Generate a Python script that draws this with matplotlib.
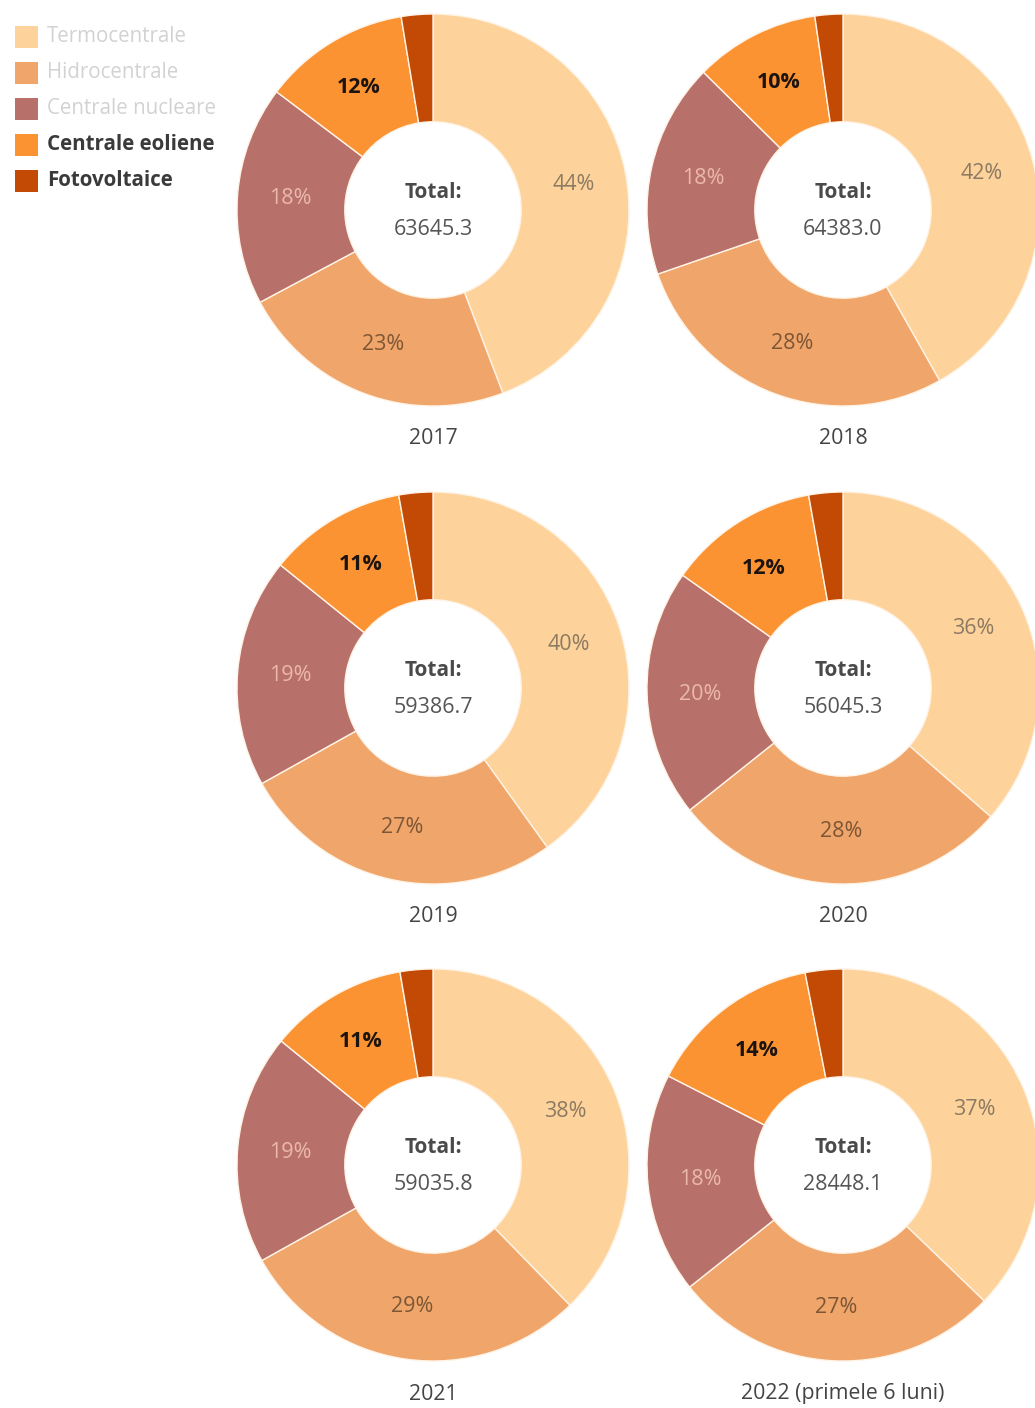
import numpy as np
import matplotlib.pyplot as plt
from matplotlib.patches import Rectangle

plt.rcParams['font.family'] = ['Open Sans', 'DejaVu Sans']

# share of electricity production by source (%), clockwise from 12 o'clock
sources = ["Termocentrale", "Hidrocentrale", "Centrale nucleare",
           "Centrale eoliene", "Fotovoltaice"]
years = ["2017", "2018", "2019", "2020", "2021", "2022 (primele 6 luni)"]
totals = ["63645.3", "64383.0", "59386.7", "56045.3", "59035.8", "28448.1"]

share_2017 = [44.2, 23.0, 18.1, 12.1, 2.6]
share_2018 = [41.8, 27.9, 17.7, 10.3, 2.3]
share_2019 = [40.1, 26.8, 18.9, 11.4, 2.8]
share_2020 = [36.3, 27.8, 20.4, 12.4, 2.8]
share_2021 = [37.7, 29.2, 19.0, 11.4, 2.7]
share_2022 = [37.2, 27.1, 18.2, 14.4, 3.1]
shares = [share_2017, share_2018, share_2019, share_2020, share_2021, share_2022]

colors = ["#fdd39b", "#f0a66b", "#b8706a", "#fb9332", "#c24a05"]
pct_colors = ["#8c7a62", "#7d5635", "#eab8ae", "#1c1410"]
pct_weights = ["normal", "normal", "normal", "bold"]
legend_colors = ["#d2d2d2", "#d2d2d2", "#d2d2d2", "#3a3a3a", "#3a3a3a"]
legend_weights = ["normal", "normal", "normal", "bold", "bold"]

W, H = 1035, 1408
fig = plt.figure(figsize=(W / 100, H / 100), dpi=100)

R = 196
centers = [(433, 210), (843, 210), (433, 688), (843, 688), (433, 1165), (843, 1165)]
pad = 1.25

for i, (cx, cy) in enumerate(centers):
    size = 2 * R * pad
    ax = fig.add_axes([(cx - size / 2) / W, 1 - (cy + size / 2) / H, size / W, size / H])
    ax.pie(shares[i], colors=colors, startangle=90, counterclock=False,
           radius=1, wedgeprops=dict(width=0.55, edgecolor="#fff3e6", linewidth=1.0))
    ax.set_xlim(-pad, pad)
    ax.set_ylim(-pad, pad)
    ax.set_aspect("equal")
    ax.axis("off")

    # percentage labels on the first four rings
    start = 0.0
    for j, v in enumerate(shares[i]):
        mid = start + v / 2
        start += v
        if j > 3:
            continue
        ang = np.deg2rad(90 - mid * 3.6)
        ax.text(0.73 * np.cos(ang), 0.73 * np.sin(ang), f"{round(v)}%",
                ha="center", va="center", fontsize=15.5,
                color=pct_colors[j], fontweight=pct_weights[j])

    ax.text(0, 0.09, "Total:", ha="center", va="center", fontsize=15,
            fontweight="bold", color="#4a4a4a")
    ax.text(0, -0.1, totals[i], ha="center", va="center", fontsize=15.5,
            color="#555555")
    fig.text(cx / W, 1 - (cy + 229) / H, years[i], ha="center", va="center",
             fontsize=15.3, color="#444444")

# legend, top left
for k, (name, c) in enumerate(zip(sources, colors)):
    y = 37 + 36 * k
    fig.patches.append(Rectangle((15 / W, 1 - (y + 11) / H), 23 / W, 22 / H,
                                 transform=fig.transFigure, facecolor=c,
                                 edgecolor="none"))
    fig.text(47 / W, 1 - y / H, name, ha="left", va="center", fontsize=14.8,
             color=legend_colors[k], fontweight=legend_weights[k])

plt.savefig("out.png", dpi=100)
